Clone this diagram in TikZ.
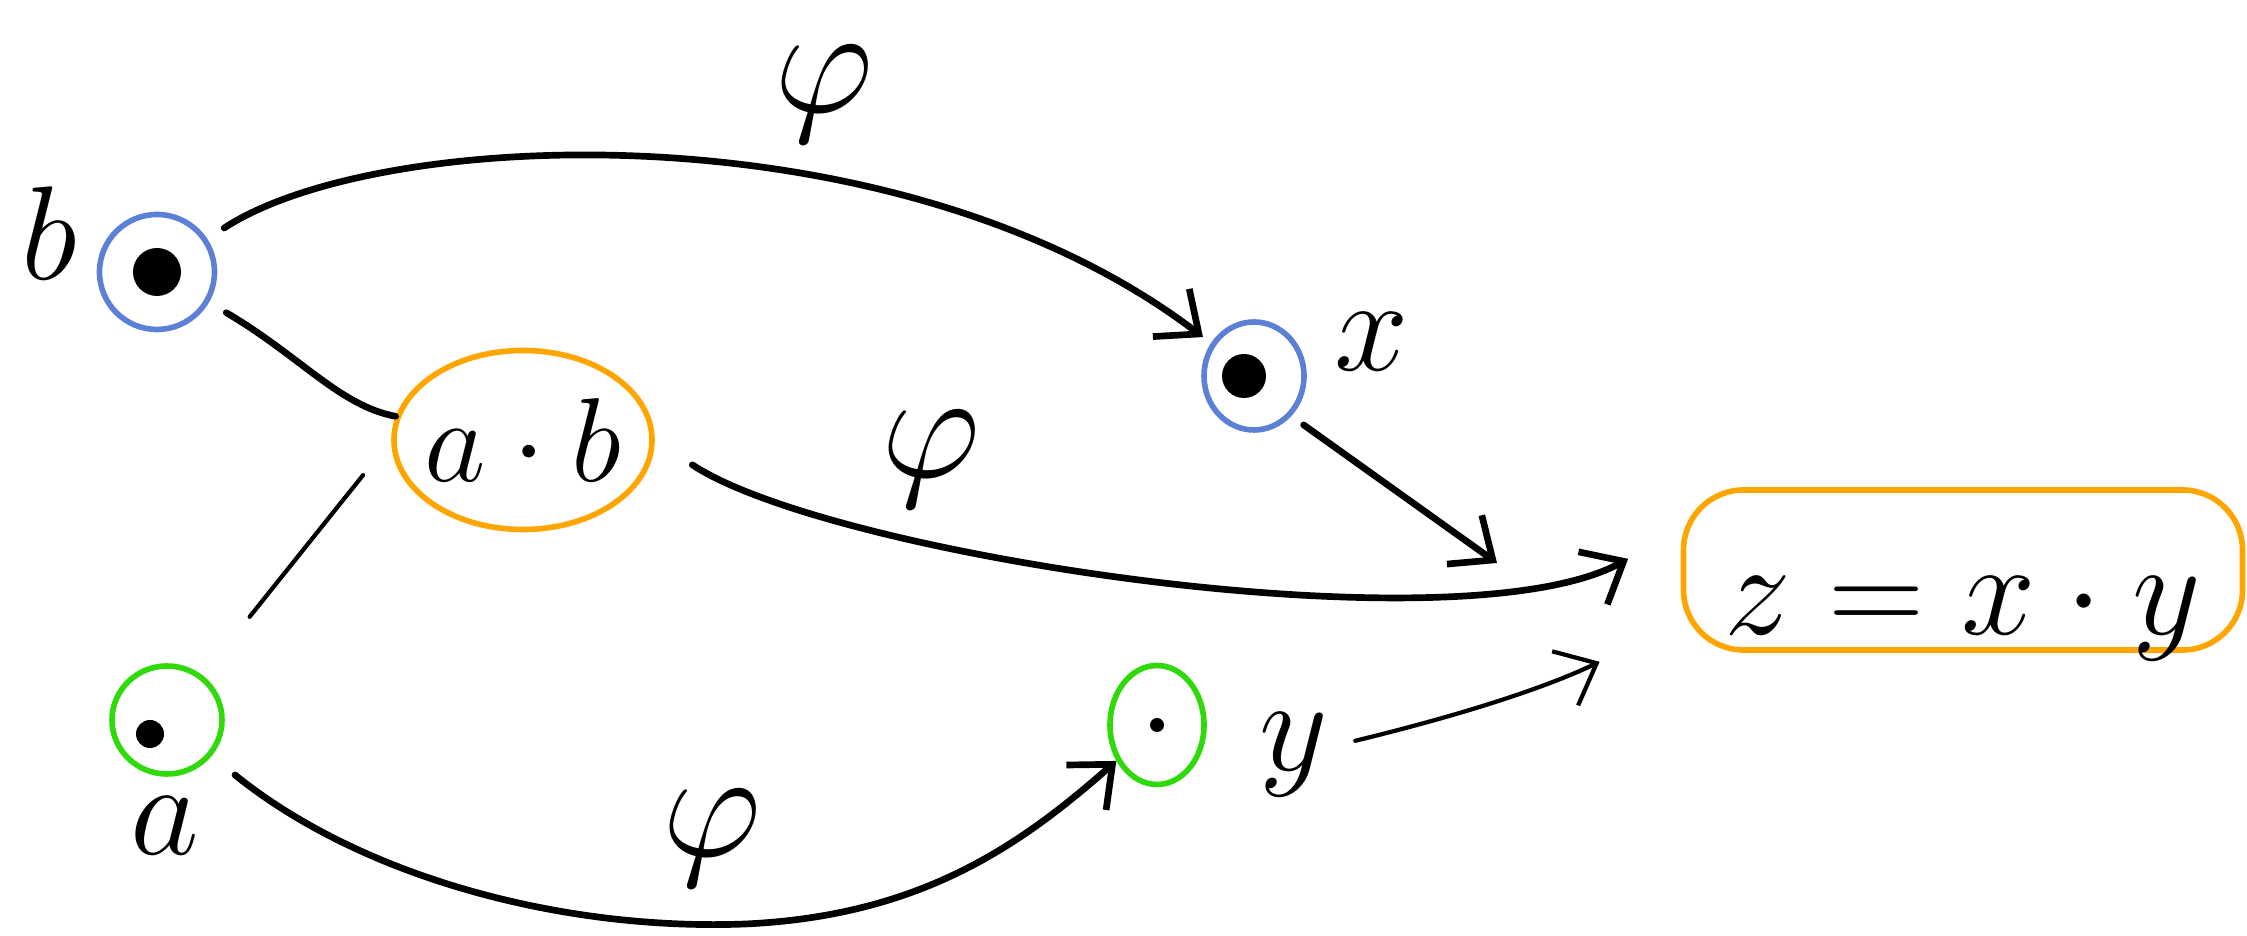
\RequirePackage{fix-cm}
\documentclass[tikz,border=0pt]{standalone}
\usetikzlibrary{shapes.geometric,arrows.meta}
\definecolor{penblue}{RGB}{91,128,214}
\definecolor{penorange}{RGB}{255,165,0}
\definecolor{pengreen}{RGB}{48,218,10}
\begin{document}
\begin{tikzpicture}[
  every node/.style={font=\fontsize{38}{42}\selectfont},
  var/.style={ellipse, draw=#1, line width=1.6pt, inner sep=0pt},
  link/.style={line width=1.9pt, line cap=round},
  thinlink/.style={line width=1.2pt, line cap=round},
  barb/.style={-{Straight Barb[length=3.5mm,width=6mm]}},
  philab/.style={font=\fontsize{44}{48}\selectfont, inner sep=0pt}]
  \useasboundingbox (0,0) rectangle (22.47,9.36);

  % points b, a and their images x, y
  \node[var=penblue, minimum width=1.15cm, minimum height=1.15cm] (b) at (1.57,6.64) {};
  \fill (b) circle (0.24);
  \node[var=pengreen, minimum width=1.1cm, minimum height=1.08cm] (a) at (1.67,2.16) {};
  \fill ([shift={(-0.17,-0.14)}]a) circle (0.14);
  \node[var=penblue, minimum width=1.0cm, minimum height=1.08cm] (x) at (12.54,5.6) {};
  \fill ([xshift=-1mm]x) circle (0.22);
  \node[var=pengreen, minimum width=0.94cm, minimum height=1.19cm] (y) at (11.57,2.11) {};
  \fill (y) circle (0.07);

  % letters next to the points
  \node (blab) at (0.49,7.03) {$b$};
  \node (alab) at (1.65,1.1) {$a$};
  \node (xlab) at (13.72,5.94) {$x$};
  \node (ylab) at (12.94,1.81) {$y$};

  % product a.b and the result z
  \node[var=penorange, font=\fontsize{34}{38}\selectfont, inner xsep=-0.3cm,
        minimum width=2.58cm, minimum height=1.79cm] (ab) at (5.23,4.96) {$a\cdot b$};
  \node[draw=penorange, line width=1.6pt, rounded corners=0.6cm, inner sep=0pt,
        minimum width=5.59cm, text height=1.45cm, text depth=0.15cm] (z) at (19.63,3.66) {$z = x\cdot y$};

  % b.a edges
  \draw[link, shorten <=2mm] (b) .. controls (3.0,5.8) and (3.4,5.3) .. (ab);
  \draw[thinlink, shorten <=7.5mm, shorten >=4.5mm] (a) -- (ab.west);

  % phi maps
  \draw[link, barb, shorten <=2mm, shorten >=1mm] (b) .. controls (3.8,8.1) and (9,8.3) .. (x);
  \node[philab] (phitop) at (8.24,8.42) {$\varphi$};
  \draw[link, barb, shorten <=4.5mm, shorten >=6mm] (ab.east) .. controls (8.3,3.8) and (14.6,2.85) .. ([yshift=4mm]z.west);
  \node[philab] (phimid) at (9.31,4.77) {$\varphi$};
  \draw[link, barb, shorten <=3mm] (a) .. controls (3.6,0.6) and (5.6,0.05) .. (7.45,0.12)
    .. controls (9.2,0.2) and (10.2,0.9) .. (y);
  \node[philab] (phibot) at (7.12,0.98) {$\varphi$};

  % into z
  \coordinate (xtip) at (14.97,3.73);
  \draw[link, barb, shorten <=1.5mm] (x.south east) -- (xtip);
  \draw[thinlink, barb, shorten <=1.5mm, shorten >=9mm] (ylab) to[bend right=6] ([yshift=3mm]z.south west);
\end{tikzpicture}
\end{document}
